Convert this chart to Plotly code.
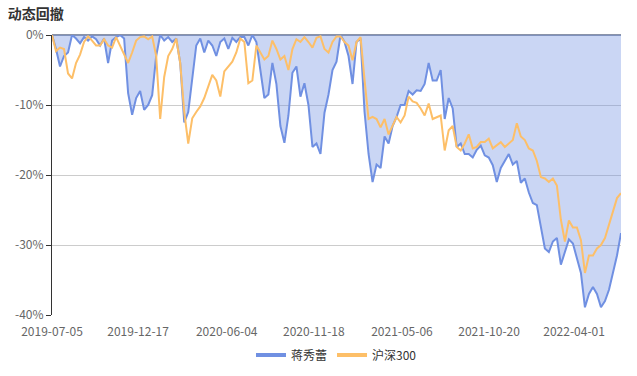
import pandas as pd
import plotly.graph_objects as go

title_text = "动态回撤"
series_names = ["蒋秀蕾", "沪深300"]
start_date = "2019-07-05"
end_date = "2022-06-30"

# drawdown values (%) sampled evenly across the period
jiang = [
    0, -2.0, -4.5, -3.0, -2.5, 0, -0.5, -1.2, -0.3, -0.8, -0.2, -0.6, -1.5, -0.5, -4.0, -0.8,
    -0.3, 0, -0.5, -8.3, -11.4, -9.0, -8.0, -10.7, -10.0, -8.6, -3.0, 0, -0.8, -0.3, -1.0, -0.5,
    -4.0, -12.5, -11.0, -6.0, -1.5, -0.5, -2.5, -0.8, -1.5, -3.0, -1.0, -0.5, -2.0, -0.4, -1.0, -0.3,
    -0.3, -1.5, 0, -1.0, -5.0, -9.0, -8.5, -4.0, -7.0, -13.0, -15.4, -11.5, -5.4, -4.5, -8.8, -6.9,
    -10.0, -16.0, -15.5, -17.0, -11.1, -8.5, -5.0, -3.8, 0, -1.0, -3.0, -7.0, -1.0, -0.5, -11.0, -17.0,
    -21.0, -18.5, -19.0, -14.5, -15.5, -13.0, -11.7, -10.0, -10.0, -8.0, -8.5, -7.9, -8.0, -7.0, -4.0, -6.5,
    -6.5, -5.0, -12.0, -9.0, -10.5, -16.0, -15.5, -17.0, -17.0, -17.5, -16.4, -15.8, -17.2, -17.5, -18.6, -21.0,
    -19.0, -18.0, -17.0, -18.5, -18.0, -21.1, -20.5, -22.5, -24.0, -24.3, -27.5, -30.5, -31.0, -29.5, -29.0, -32.8,
    -31.0, -29.2, -29.8, -32.0, -34.0, -38.9, -37.0, -36.0, -37.0, -38.9, -38.0, -36.4, -34.0, -31.5, -28.3,
]
hs300 = [
    0, -2.3, -1.8, -2.0, -5.5, -6.2, -4.0, -2.8, -1.0, -0.2, -0.8, -1.5, -1.5, -0.6, -1.5, -1.8,
    -0.3, -1.5, -2.8, -4.0, -2.5, -0.8, -0.3, -0.2, -0.6, -0.2, -3.0, -12.0, -6.0, -3.0, -2.0, -0.5,
    -4.0, -11.0, -15.5, -11.9, -11.0, -10.2, -9.0, -7.5, -5.7, -6.5, -8.8, -5.2, -4.5, -3.8, -2.5, -0.5,
    -1.0, -6.9, -6.5, -1.5, -2.5, -3.5, -3.0, -0.8, -2.0, -3.5, -3.0, -5.0, -2.0, -0.6, -1.0, -0.3,
    -1.0, -1.8, -0.4, -0.2, -2.0, -2.5, -1.0, -0.2, -0.2, -1.0, -1.5, -3.6, -1.0, -0.3, -6.4, -12.0,
    -11.7, -12.0, -13.2, -12.0, -14.2, -13.0, -11.7, -12.5, -11.5, -8.8, -9.5, -9.7, -10.5, -11.5, -9.8, -12.0,
    -11.7, -11.5, -16.5, -13.6, -13.0, -16.0, -16.5, -15.5, -14.2, -16.2, -16.0, -15.3, -15.3, -14.8, -16.2, -15.8,
    -15.3, -16.0, -15.5, -15.0, -12.6, -14.5, -15.0, -16.2, -16.5, -18.0, -20.3, -20.5, -21.0, -20.5, -21.5, -26.4,
    -29.5, -26.5, -27.5, -27.5, -29.3, -34.0, -31.5, -31.5, -30.5, -30.0, -29.0, -27.0, -25.0, -23.3, -22.6,
]
x_tick_labels = ["2019-07-05", "2019-12-17", "2020-06-04", "2020-11-18",
                 "2021-05-06", "2021-10-20", "2022-04-01"]
y_tick_vals = [0, -10, -20, -30, -40]
y_tick_labels = ["0%", "-10%", "-20%", "-30%", "-40%"]

dates = pd.date_range(start_date, end_date, periods=len(jiang))

blue = "#7090e2"
orange = "#fdbf68"
font_family = "Noto Sans CJK SC, Noto Sans, sans-serif"

fig = go.Figure()
fig.add_trace(go.Scatter(
    x=dates, y=jiang, name=series_names[0], mode="lines",
    line=dict(color=blue, width=2), fill="tozeroy",
    fillcolor="rgba(112,145,224,0.37)", showlegend=False,
))
fig.add_trace(go.Scatter(
    x=dates, y=hs300, name=series_names[1], mode="lines",
    line=dict(color=orange, width=2), showlegend=False,
))
# legend entries (line-style icons)
fig.add_trace(go.Scatter(x=[None], y=[None], name=series_names[0], mode="lines",
                         line=dict(color=blue, width=4)))
fig.add_trace(go.Scatter(x=[None], y=[None], name=series_names[1], mode="lines",
                         line=dict(color=orange, width=4)))

fig.update_layout(
    width=637, height=376,
    margin=dict(l=52, r=16, t=35, b=61, autoexpand=False),
    paper_bgcolor="white", plot_bgcolor="white",
    font=dict(family=font_family, size=12, color="#666"),
    hovermode=False,
    title=dict(text="<b>" + title_text + "</b>", x=0.012, xanchor="left",
               y=0.963, yanchor="middle", automargin=False,
               font=dict(size=14, color="#333", family=font_family)),
    legend=dict(orientation="h", x=0.5, xanchor="center", y=-0.143, yanchor="middle",
                font=dict(size=12, color="#333"), itemwidth=30),
    showlegend=True,
)
fig.update_xaxes(
    range=[dates[0], dates[-1]], automargin=False,
    tickvals=pd.to_datetime(x_tick_labels), ticktext=x_tick_labels,
    showgrid=False, showline=False, zeroline=False,
    ticks="outside", ticklen=6, tickcolor="rgba(0,0,0,0)",
    tickfont=dict(size=12, color="#666"),
)
fig.update_yaxes(
    range=[-40, 0], automargin=False,
    tickvals=y_tick_vals, ticktext=y_tick_labels,
    showgrid=True, gridcolor="#cccccc", gridwidth=1,
    zeroline=True, zerolinecolor="#8a93a8", zerolinewidth=1.5,
    showline=True, linecolor="#333", linewidth=1,
    ticks="outside", ticklen=5, tickcolor="#333",
    tickfont=dict(size=12, color="#666"),
)

fig.write_html("out.html", config={"displayModeBar": False},
               post_script="document.body.style.margin='0';document.body.style.overflow='hidden';")
